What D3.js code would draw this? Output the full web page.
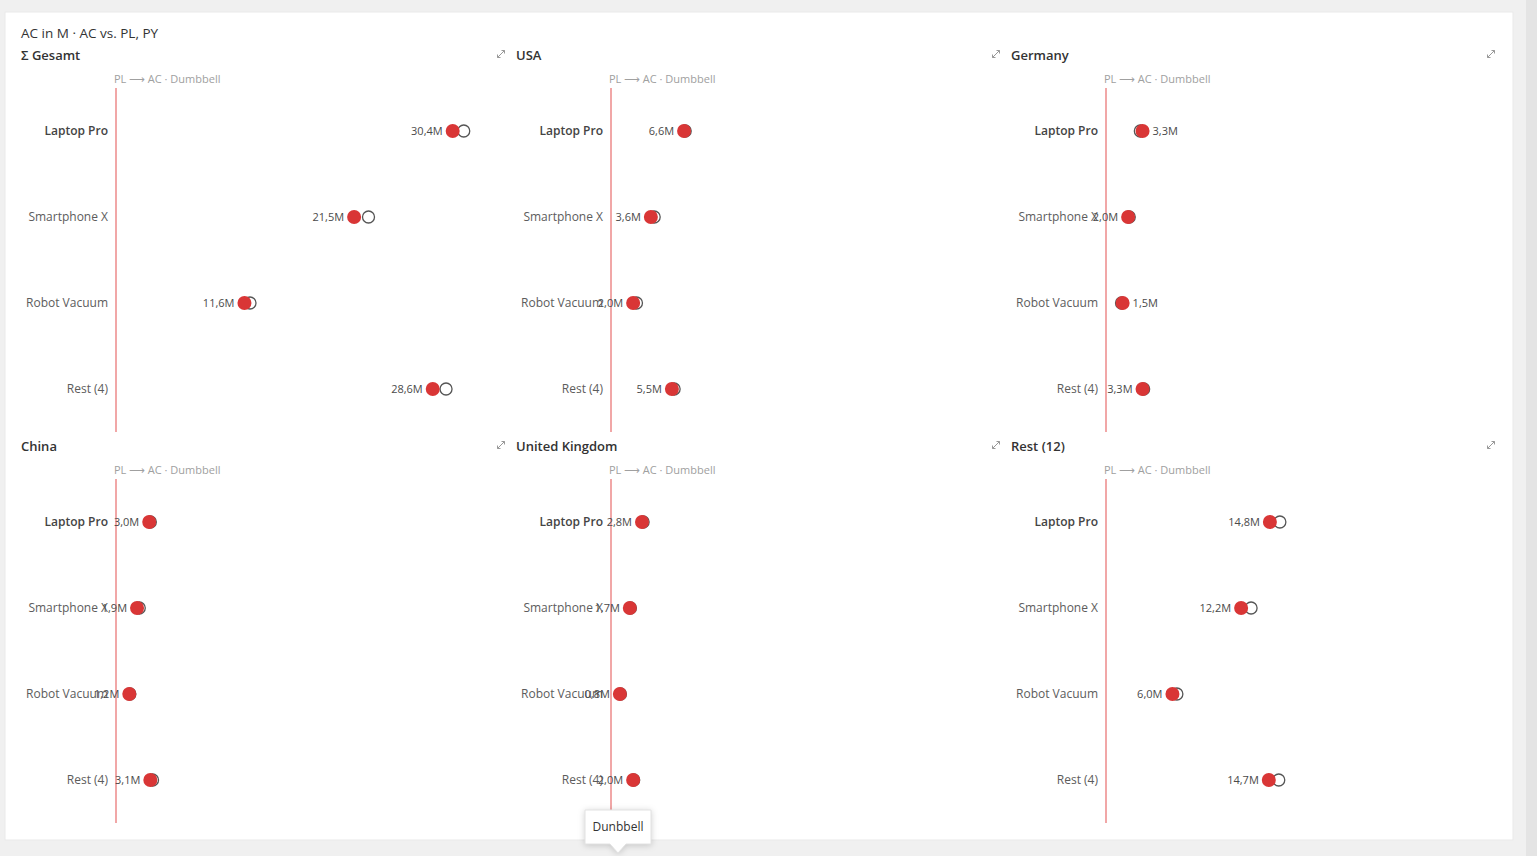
<!DOCTYPE html>
<html>
<head>
<meta charset="utf-8">
<script src="https://cdn.jsdelivr.net/npm/d3@7"></script>
<style>
  body { margin: 0; background: #f0f0f0; font-family: "Open Sans", "Noto Sans", sans-serif; }
  svg { display: block; }
</style>
</head>
<body>
<svg id="chart" width="1537" height="856"></svg>
<script>
// chart values (in M)
const panelNames = ["Σ Gesamt", "USA", "Germany", "China", "United Kingdom", "Rest (12)"];
const categories = ["Laptop Pro", "Smartphone X", "Robot Vacuum", "Rest (4)"];
const acValues = [
  [30.4, 21.5, 11.6, 28.6],
  [6.6, 3.6, 2.0, 5.5],
  [3.3, 2.0, 1.5, 3.3],
  [3.0, 1.9, 1.2, 3.1],
  [2.8, 1.7, 0.8, 2.0],
  [14.8, 12.2, 6.0, 14.7],
];
const plValues = [
  [31.4, 22.8, 12.1, 29.8],
  [6.7, 3.9, 2.3, 5.7],
  [3.1, 2.1, 1.4, 3.4],
  [3.1, 2.1, 1.25, 3.3],
  [2.9, 1.75, 0.85, 2.05],
  [15.7, 13.1, 6.4, 15.6],
];
const chartTitle = "AC in M · AC vs. PL, PY";
const subtitleParts = ["PL ", "\u27F6", " AC · Dumbbell"];
const tooltipText = "Dunbbell";

const svg = d3.select("#chart");
const width = +svg.attr("width");
const height = +svg.attr("height");

// page background, card, scrollbar strip
svg.append("rect").attr("width", width).attr("height", height).attr("fill", "#f0f0f0");
svg.append("rect").attr("x", 1526).attr("y", 0).attr("width", 11).attr("height", height).attr("fill", "#e4e4e4");
svg.append("rect")
  .attr("x", 5).attr("y", 12).attr("width", 1508).attr("height", 828)
  .attr("fill", "#fff").attr("stroke", "#e9e9e9");

svg.append("text")
  .attr("x", 21).attr("y", 38)
  .attr("font-size", 13.5).attr("fill", "#333")
  .text(chartTitle);

const panelW = 495;
const panelH = 391;
const fmt = (v) => d3.format(".1f")(v).replace(".", ",") + "M";

// shared value scale across all panels
const x = d3.scaleLinear().domain([0, 40]).range([0, 443]);
const y = d3.scaleBand().domain(categories).range([0, 344]);

const panels = svg.selectAll(".panel")
  .data(panelNames.map((name, i) => ({ name, i })))
  .join("g")
  .attr("class", "panel")
  .attr("transform", (d) => `translate(${16 + (d.i % 3) * panelW},${Math.floor(d.i / 3) * panelH})`);

panels.append("text")
  .attr("x", 5).attr("y", 60)
  .attr("font-size", 13).attr("font-weight", 600).attr("fill", "#333")
  .text((d) => d.name);

// expand icon
panels.append("path")
  .attr("transform", "translate(485,54)")
  .attr("d", "M-3.5,3.5L3.5,-3.5M0.5,-3.5H3.5V-0.5M-3.5,0.5V3.5H-0.5")
  .attr("fill", "none").attr("stroke", "#999").attr("stroke-width", 1);

const sub = panels.append("text")
  .attr("x", 98).attr("y", 83)
  .attr("font-size", 11).attr("fill", "#a0a0a0");
sub.selectAll("tspan")
  .data(subtitleParts)
  .join("tspan")
  .attr("font-family", (d, k) => (k === 1 ? "DejaVu Sans" : null))
  .text((d) => d);

const plot = panels.append("g").attr("transform", "translate(100,88)");

plot.append("line")
  .attr("x1", x(0)).attr("x2", x(0))
  .attr("y1", 0).attr("y2", y.range()[1])
  .attr("stroke", "#ec8a8a").attr("stroke-width", 1.5);

const rows = plot.selectAll(".row")
  .data((d) => categories.map((c, j) => ({ c, j, ac: acValues[d.i][j], pl: plValues[d.i][j] })))
  .join("g")
  .attr("class", "row")
  .attr("transform", (d) => `translate(0,${y(d.c) + y.bandwidth() / 2})`);

rows.append("text")
  .attr("x", -8).attr("dy", "0.35em")
  .attr("text-anchor", "end")
  .attr("font-size", 12)
  .attr("font-weight", (d) => (d.j === 0 ? 600 : 400))
  .attr("fill", (d) => (d.j === 0 ? "#444" : "#5c5c5c"))
  .text((d) => d.c);

// PL marker (hollow)
rows.append("circle")
  .attr("cx", (d) => x(d.pl))
  .attr("r", 6)
  .attr("fill", "#fff").attr("stroke", "#555").attr("stroke-width", 1.3);

// AC marker (filled)
rows.append("circle")
  .attr("cx", (d) => x(d.ac))
  .attr("r", 7)
  .attr("fill", "#d93636");

// value label sits on the side away from PL
rows.append("text")
  .attr("x", (d) => (d.ac >= d.pl ? x(d.ac) + 10 : x(d.ac) - 10))
  .attr("dy", "0.35em")
  .attr("text-anchor", (d) => (d.ac >= d.pl ? "start" : "end"))
  .attr("font-size", 11).attr("fill", "#4a4a4a")
  .text((d) => fmt(d.ac));

// tooltip
const tip = svg.append("g").attr("transform", "translate(618,827)");
tip.append("path")
  .attr("d", "M-33,-17H33V17H8L0,26L-8,17H-33Z")
  .attr("fill", "#fff")
  .attr("stroke", "#e2e2e2")
  .style("filter", "drop-shadow(0 1px 3px rgba(0,0,0,0.18))");
tip.append("text")
  .attr("dy", "0.35em").attr("text-anchor", "middle")
  .attr("font-size", 12).attr("fill", "#333")
  .text(tooltipText);
</script>
</body>
</html>
